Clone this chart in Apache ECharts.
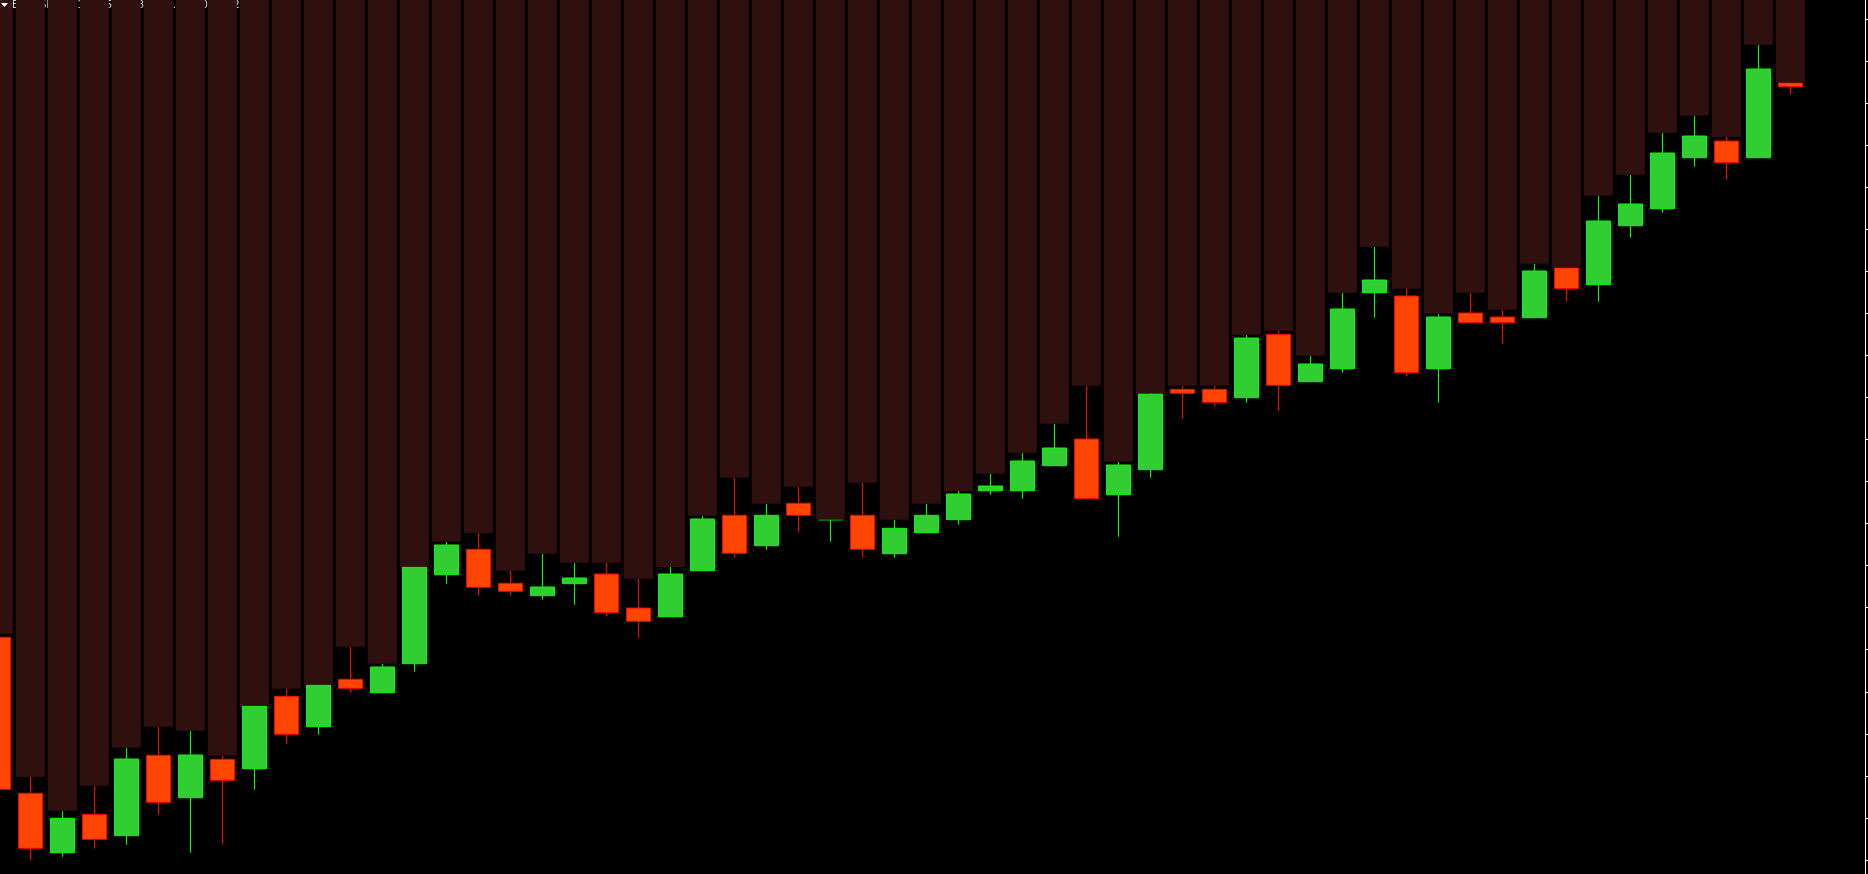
<!DOCTYPE html>
<html>
<head>
<meta charset="utf-8">
<script src="https://cdn.jsdelivr.net/npm/echarts@6/dist/echarts.min.js"></script>
<style>
html,body{margin:0;padding:0;background:#000;}
#chart{width:1868px;height:874px;}
</style>
</head>
<body>
<div id="chart"></div>
<script>
// Candle values (price units)
const opens  = [264.7,108.7,49.3,87.7,66.3,146.7,104.3,142.7,133.3,205.7,175.3,222.7,209.3,238.3,327.3,352.7,318.7,306.3,318.3,328,294,285.3,331.3,386.7,356.3,398.7,382.2,386.7,348.3,369.3,382.3,411.3,411.3,436.3,463,407.3,432.3,512.7,512.7,504.3,567.7,520.3,533.3,609.3,606,533.3,589,585,584.3,634.3,617.3,676.3,693.3,744.3,761,744.3,819.3];
const closes = [112.7,53.7,83.7,62.7,143,99.7,147,121.7,196,167.7,217,213.7,235,335,357,314.7,310.7,315,324,289.3,280.7,328,383,348.7,386.7,386.7,382.3,352.7,373.7,386.7,408,416,441,454,403.3,437,508,508.7,499.7,564,516.7,538,593,622,529.3,585,579.3,579.3,631,613.5,681,698,749,766,739.3,833,815.3];
const lows   = [105,41.3,45.3,53.3,57.3,87.3,49.3,57.3,112.3,158.3,167.3,209.3,209.3,230.3,318.3,306.3,306.3,302.3,297.3,285.3,264.3,285.3,331.3,344.3,352.3,369.3,360.3,344.3,344.3,369.3,377.3,407.3,403.3,436.3,403.3,365.3,424.3,483.3,495.3,499.3,491,520.3,529.3,584.3,525.3,499.3,579.3,558.3,584.3,600.3,600.3,664.3,689.3,735.3,722.3,744.3,807.3];
const highs  = [268.3,125,91.3,116.3,154.3,175.3,171.3,146.3,196.3,213.3,217.3,255.3,238.3,335.3,360.3,369,331.3,348.3,339.3,339.3,323.3,335,386.3,424.3,398.3,415.3,382.3,419.3,382.3,398.3,411,428.3,449.3,478.3,516.3,440.3,508.7,516.3,516.3,567.3,571.3,546.3,609.3,655.3,613.3,588.3,609.3,592.3,638.3,634.3,706.3,727.3,769.3,786.3,765,857.3,819.3];
const priceTicks = [42.05,84.1,126.15,168.2,210.25,252.3,294.35,336.4,378.45,420.5,462.55,504.6,546.65,588.7,630.75,672.8,714.85,756.9,798.95,841,883.05];
const priceMin = 28, priceMax = 902;
const barMin = 0.053, barMax = 58.334;

const candleData = opens.map((o, i) => [i, o, closes[i], lows[i], highs[i]]);
const highData = highs.map((h, i) => [i, h]);

const chart = echarts.init(document.getElementById('chart'), null, {renderer: 'canvas'});
chart.setOption({
  backgroundColor: '#000000',
  animation: false,
  grid: {left: 0, right: 3, top: 0, bottom: 0, containLabel: false},
  xAxis: {
    type: 'value',
    min: barMin,
    max: barMax,
    show: false,
    splitLine: {show: false}
  },
  yAxis: {
    type: 'value',
    position: 'right',
    min: priceMin,
    max: priceMax,
    axisLine: {show: true, lineStyle: {color: '#ffffff', width: 1}},
    axisTick: {show: true, length: 4, customValues: priceTicks, lineStyle: {color: '#ffffff', width: 1}},
    axisLabel: {show: false, customValues: priceTicks},
    splitLine: {show: false}
  },
  graphic: [
    {type: 'text', left: 12, top: 0, z: 0,
     style: {text: 'EURUSD,H1  1.08254 1.08301 1.08220 1.08287', fill: '#d8d8d8', font: '10px "DejaVu Sans"'}},
    {type: 'polygon', z: 100, shape: {points: [[1, 3], [8, 3], [4.5, 7]]}, style: {fill: '#ffffff'}}
  ],
  series: [
    {
      type: 'candlestick',
      data: candleData,
      encode: {x: 0, y: [1, 2, 3, 4]},
      barWidth: 24,
      clip: false,
      z: 2,
      itemStyle: {
        color: '#32CD32',
        color0: '#FF4500',
        borderColor: '#00FF00',
        borderColor0: '#FF0000',
        borderWidth: 1
      }
    },
    {
      type: 'custom',
      data: highData,
      encode: {x: 0, y: 1},
      z: 3,
      silent: true,
      renderItem: function (params, api) {
        const x = api.value(0);
        const h = api.value(1);
        const bottom = api.coord([x, h]);
        const top = api.coord([x, priceMax]);
        const w = api.size([1, 0])[0] * 29 / 32;
        return {
          type: 'rect',
          shape: {x: bottom[0] - w / 2, y: top[1], width: w, height: bottom[1] - top[1]},
          style: {fill: '#300f0f'}
        };
      }
    }
  ]
});
</script>
</body>
</html>
